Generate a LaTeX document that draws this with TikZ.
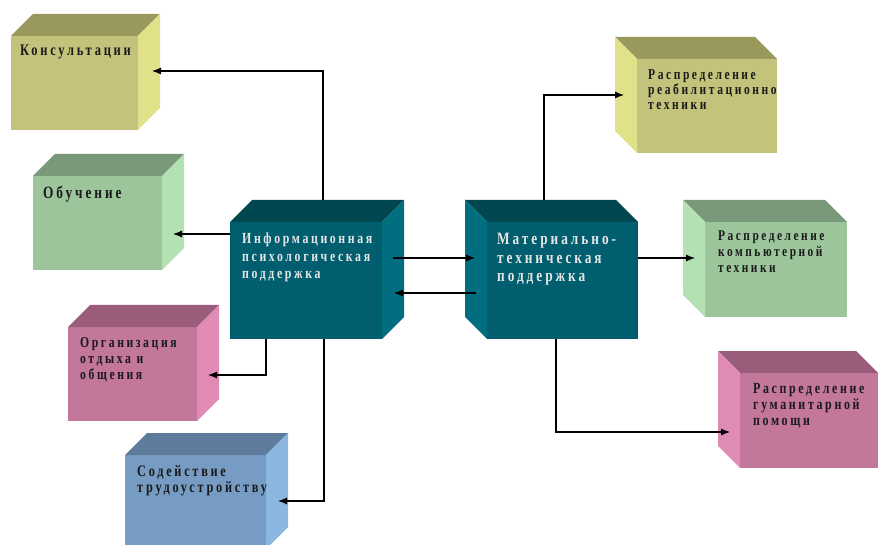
\documentclass[tikz,border=0pt]{standalone}
\usepackage{fontspec}
\newfontfamily\boxfont[LetterSpace=17,FakeStretch=0.77]{Liberation Serif}
\usetikzlibrary{calc,arrows.meta}
\definecolor{oliveF}{HTML}{C3C37B}\definecolor{oliveT}{HTML}{99995E}\definecolor{oliveS}{HTML}{E1E18A}
\definecolor{greenF}{HTML}{9DC59C}\definecolor{greenT}{HTML}{7A997A}\definecolor{greenS}{HTML}{B4E1B4}
\definecolor{pinkF}{HTML}{C3779B}\definecolor{pinkT}{HTML}{9A5C7B}\definecolor{pinkS}{HTML}{E08AB6}
\definecolor{blueF}{HTML}{779CC4}\definecolor{blueT}{HTML}{5E7B9B}\definecolor{blueS}{HTML}{8AB6E0}
\definecolor{tealF}{HTML}{005E6E}\definecolor{tealT}{HTML}{00474F}\definecolor{tealS}{HTML}{006E7E}
\definecolor{darktxt}{HTML}{1A1A1A}\definecolor{lighttxt}{HTML}{E6E6E6}
\newcommand\dd{22}
\newcommand\cubeR[6]{%
  \node[face, fill=#6F, minimum width=#4pt, minimum height=#5pt] (#1) at (#2,#3) {};
  \fill[#6T] (#1.north west) -- (#1.north east) -- ++(\dd,-\dd) -- ($(#1.north west)+(\dd,-\dd)$) -- cycle;
  \fill[#6S] (#1.north east) -- (#1.south east) -- ++(\dd,-\dd) -- ($(#1.north east)+(\dd,-\dd)$) -- cycle;
}
\newcommand\cubeL[6]{%
  \node[face, fill=#6F, minimum width=#4pt, minimum height=#5pt] (#1) at (#2,#3) {};
  \fill[#6T] (#1.north west) -- (#1.north east) -- ++(-\dd,-\dd) -- ($(#1.north west)+(-\dd,-\dd)$) -- cycle;
  \fill[#6S] (#1.north west) -- (#1.south west) -- ++(-\dd,-\dd) -- ($(#1.north west)+(-\dd,-\dd)$) -- cycle;
}
% #1 cube, #2 x, #3 y, #4 colour, #5 size, #6 skip, #7 text
\newcommand\btext[7]{%
  \begin{scope}
    \clip (#1.south west) rectangle (#1.north east);
    \node[txt={#4}{#5}{#6}] (#1-t) at (#2,#3) {#7};
  \end{scope}}
\tikzset{
  face/.style={draw=none, inner sep=0pt, outer sep=0pt, anchor=north west},
  txt/.style n args={3}{anchor=north west, inner sep=0pt, align=left, text=#1,
    font=\boxfont\bfseries\fontsize{#2}{#3}\selectfont},
  arr/.style={draw=black, line width=1.1pt, -{Latex[length=9pt,width=7pt]}}
}
\begin{document}
\begin{tikzpicture}[x=1pt,y=-1pt]
\useasboundingbox (0,0) rectangle (878,545);
\clip (0,0) rectangle (878,545);
% left cubes
\cubeR{kons}{11}{36}{127}{94}{olive}
\btext{kons}{20}{45}{darktxt}{16.2}{16}{Консультации}
\cubeR{obuch}{33}{176}{129}{94}{green}
\btext{obuch}{43}{186}{darktxt}{17.3}{16}{Обучение}
\cubeR{org}{68}{327}{129}{94}{pink}
\btext{org}{80}{337}{darktxt}{15.2}{16}{Организация\\отдыха и\\общения}
\cubeR{sod}{125}{455}{141}{94}{blue}
\btext{sod}{137}{465}{darktxt}{16}{16}{Содействие\\трудоустройству}
% central cubes
\cubeR{info}{230}{222}{152}{117}{teal}
\btext{info}{242}{233}{lighttxt}{15.4}{17.5}{Информационная\\психологическая\\поддержка}
\cubeL{mat}{487}{222}{151}{117}{teal}
\btext{mat}{497}{233}{lighttxt}{17.3}{18.5}{Материально-\\техническая\\поддержка}
% right cubes
\cubeL{reab}{637}{59}{140}{94}{olive}
\btext{reab}{648}{69}{darktxt}{15}{15}{Распределение\\реабилитационной\\техники}
\cubeL{comp}{705}{222}{142}{95}{green}
\btext{comp}{718}{231}{darktxt}{14.8}{16}{Распределение\\компьютерной\\техники}
\cubeL{gum}{740}{373}{138}{95}{pink}
\btext{gum}{753}{383}{darktxt}{15.5}{16}{Распределение\\гуманитарной\\помощи}
% connectors
\draw[arr] ($(info.north west)+(93,-22)$) |- ($(kons.north east)+(14,35)$);
\draw[arr] ($(info.north west)+(0,12)$) -- ($(obuch.north east)+(11,58)$);
\draw[arr] ($(info.south west)+(36,0)$) |- ($(org.north east)+(11,48)$);
\draw[arr] ($(info.south west)+(94,0)$) |- ($(sod.north east)+(12,46)$);
\draw[arr] ($(info.north east)+(11,36)$) -- ($(mat.north west)+(-12,36)$);
\draw[arr] ($(mat.north west)+(-11,71)$) -- ($(info.north east)+(12,71)$);
\draw[arr] ($(mat.north west)+(57,-22)$) |- ($(reab.north west)+(-13,36)$);
\draw[arr] ($(mat.north east)+(0,36)$) -- ($(comp.north west)+(-10,36)$);
\draw[arr] ($(mat.south west)+(69,0)$) |- ($(gum.north west)+(-10,59)$);
\end{tikzpicture}
\end{document}
